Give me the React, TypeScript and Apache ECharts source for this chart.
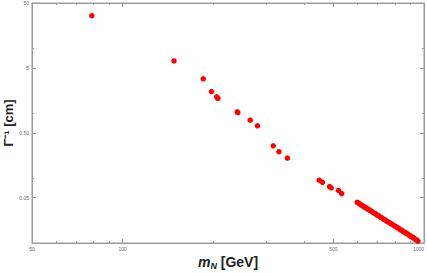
import React, { useEffect, useRef } from "react";
import * as echarts from "echarts";

const massGeV: number[] = [
  79, 148, 185, 197, 205, 207, 240, 241, 265, 280, 316, 330, 352,
  449, 460, 486, 492, 520, 533,
  600, 605, 612, 618, 625, 632, 640, 648, 655, 662, 670, 680, 690, 698, 705,
  715, 725, 735, 745, 755, 765, 775, 785, 795, 805, 815, 825, 835, 845, 855,
  865, 875, 885, 895, 905, 915, 925, 935, 945, 955,
];
const inverseWidthCm: number[] = [
  31.9, 6.4, 3.39, 2.16, 1.79, 1.69, 1.05, 1.02, 0.78, 0.64, 0.315, 0.255, 0.204,
  0.093, 0.086, 0.074, 0.071, 0.0645, 0.0577,
  0.0424, 0.0416, 0.0402, 0.0386, 0.0378, 0.0362, 0.0353, 0.0336, 0.0329, 0.0316, 0.0309, 0.0291, 0.0283, 0.0270, 0.0266,
  0.0251, 0.0244, 0.0232, 0.0226, 0.0214, 0.0209, 0.0199, 0.0194, 0.0185, 0.0180, 0.0172, 0.0168, 0.0160, 0.0156, 0.0149,
  0.0146, 0.0139, 0.0137, 0.0130, 0.0128, 0.0122, 0.0120, 0.0114, 0.0112, 0.0107,
];

const xMajorTicks = [50, 100, 500, 1000];
const xMinorTicks = [60, 70, 80, 90, 200, 300, 400, 600, 700, 800, 900];
const yMajorTicks = [0.05, 0.5, 5, 50];
const yMinorTicks = [0.01, 0.1, 1, 10];

const frameColor = "#9a9a9a";
const labelColor = "#666";

export default function App() {
  const ref = useRef<HTMLDivElement>(null);
  useEffect(() => {
    if (!ref.current) return;
    const chart = echarts.init(ref.current, undefined, { renderer: "svg" });
    const fmt = (v: number) => {
      if (Math.abs(v - 0.05) < 1e-9) return "0.05";
      if (Math.abs(v - 0.5) < 1e-9) return "0.50";
      return String(Math.round(v * 1000) / 1000);
    };
    const baseX = {
      type: "log" as const,
      logBase: 10,
      min: 50,
      max: 1000,
      splitLine: { show: false },
      axisLine: { show: true, lineStyle: { color: frameColor, width: 1 } },
    };
    const baseY = {
      type: "log" as const,
      logBase: 10,
      min: 0.01,
      max: 50,
      splitLine: { show: false },
      axisLine: { show: true, lineStyle: { color: frameColor, width: 1 } },
    };
    const data = massGeV.map((m, i) => [m, inverseWidthCm[i]]);
    chart.setOption({
      animation: false,
      backgroundColor: "#fff",
      grid: {
        left: 32,
        right: 3,
        top: 3,
        bottom: 30,
        containLabel: false,
        outerBoundsMode: "none",
        show: true,
        borderColor: frameColor,
        borderWidth: 1,
        backgroundColor: "transparent",
      },
      xAxis: [
        {
          ...baseX,
          position: "bottom",
          name: "{i|m}{sub|N} [GeV]",
          nameLocation: "middle",
          nameGap: 10,
          nameMoveOverlap: false,
          nameTextStyle: {
            fontFamily: "Liberation Sans",
            fontWeight: "bold",
            fontSize: 14,
            color: "#222",
            verticalAlign: "top",
            rich: {
              i: { fontFamily: "Liberation Sans", fontStyle: "italic", fontWeight: "bold", fontSize: 14, color: "#222" },
              sub: { fontFamily: "Liberation Sans", fontStyle: "italic", fontWeight: "bold", fontSize: 9, color: "#222", verticalAlign: "bottom", padding: [8, 0, 0, 0] },
            },
          },
          axisTick: { show: true, inside: true, length: 4, lineStyle: { color: frameColor }, customValues: xMajorTicks },
          axisLabel: { show: true, fontSize: 5, color: labelColor, margin: 3, fontFamily: "Liberation Sans", customValues: xMajorTicks, formatter: fmt, alignMaxLabel: "right" },
        },
        {
          ...baseX,
          position: "bottom",
          axisLine: { show: false },
          axisTick: { show: true, inside: true, length: 2, lineStyle: { color: frameColor }, customValues: xMinorTicks },
          axisLabel: { show: false },
        },
        {
          ...baseX,
          position: "top",
          axisTick: { show: true, inside: true, length: 4, lineStyle: { color: frameColor }, customValues: xMajorTicks },
          axisLabel: { show: false },
        },
        {
          ...baseX,
          position: "top",
          axisLine: { show: false },
          axisTick: { show: true, inside: true, length: 2, lineStyle: { color: frameColor }, customValues: xMinorTicks },
          axisLabel: { show: false },
        },
      ],
      yAxis: [
        {
          ...baseY,
          position: "left",
          name: "Γ⁻¹ [cm]",
          nameLocation: "middle",
          nameGap: 17,
          nameMoveOverlap: false,
          nameRotate: 90,
          nameTextStyle: { fontFamily: "Liberation Sans", fontWeight: "bold", fontSize: 13, color: "#222" },
          axisTick: { show: true, inside: true, length: 4, lineStyle: { color: frameColor }, customValues: yMajorTicks },
          axisLabel: { show: true, fontSize: 5, color: labelColor, margin: 3, fontFamily: "Liberation Sans", customValues: yMajorTicks, formatter: fmt },
        },
        {
          ...baseY,
          position: "left",
          axisLine: { show: false },
          axisTick: { show: true, inside: true, length: 2, lineStyle: { color: frameColor }, customValues: yMinorTicks },
          axisLabel: { show: false },
        },
        {
          ...baseY,
          position: "right",
          axisTick: { show: true, inside: true, length: 4, lineStyle: { color: frameColor }, customValues: yMajorTicks },
          axisLabel: { show: false },
        },
        {
          ...baseY,
          position: "right",
          axisLine: { show: false },
          axisTick: { show: true, inside: true, length: 2, lineStyle: { color: frameColor }, customValues: yMinorTicks },
          axisLabel: { show: false },
        },
      ],
      series: [
        {
          type: "scatter",
          xAxisIndex: 0,
          yAxisIndex: 0,
          data,
          symbol: "circle",
          symbolSize: 5.5,
          itemStyle: { color: "#ff0000", opacity: 1 },
        },
      ],
    });
    return () => chart.dispose();
  }, []);
  return (
    <div
      ref={ref}
      style={{ position: "fixed", left: 0, top: 0, width: 427, height: 273, background: "#fff" }}
    />
  );
}
